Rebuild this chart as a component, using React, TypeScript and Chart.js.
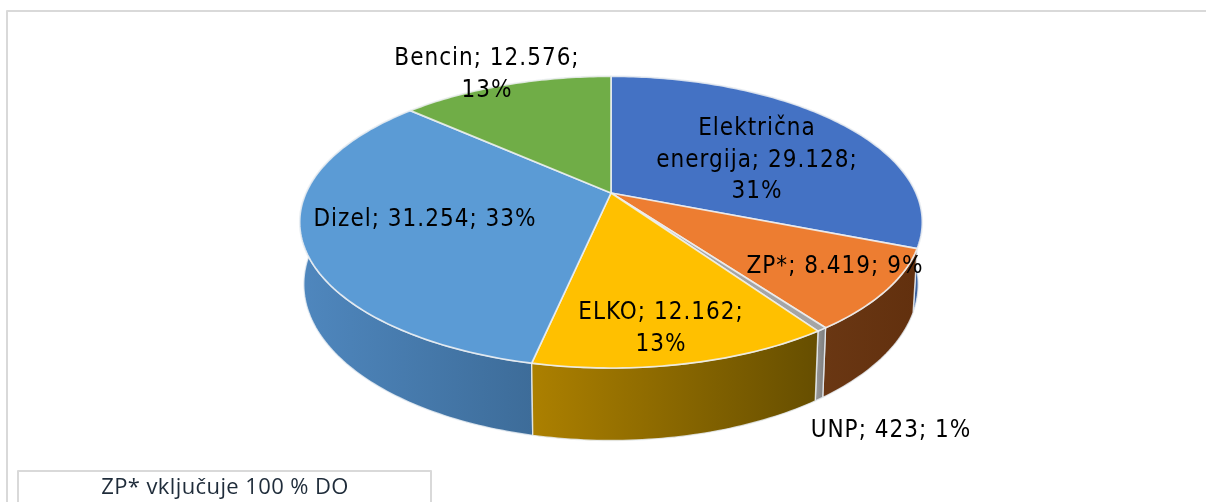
import React, { useEffect, useRef } from "react";
import { Chart, registerables } from "chart.js";

Chart.register(...registerables);

const categories = ["Električna energija", "ZP*", "UNP", "ELKO", "Dizel", "Bencin"];
const values = [29128, 8419, 423, 12162, 31254, 12576];
const valueLabels = ["29.128", "8.419", "423", "12.162", "31.254", "12.576"];
const percents = [31, 9, 1, 13, 33, 13];
const topColors = ["#4472C4", "#ED7D31", "#A5A5A5", "#FFC000", "#5B9BD5", "#70AD47"];
const wallLeft = ["#3C629F", "#6A3713", "#9A9A9A", "#AC8000", "#4F87BE", "#4F7A32"];
const wallRight = ["#3C629F", "#62300E", "#7C7C7C", "#664E00", "#3D6C99", "#4F7A32"];
const footnote = "ZP* vključuje 100 % DO";

// label placement: centre x, first-line centre y, wrapped lines
const labelLayout = [
  { x: 757, y: 129, lines: ["Električna", "energija; 29.128;", "31%"] },
  { x: 835, y: 267, lines: ["ZP*; 8.419; 9%"] },
  { x: 891, y: 431, lines: ["UNP; 423; 1%"] },
  { x: 661, y: 313, lines: ["ELKO; 12.162;", "13%"] },
  { x: 425, y: 220, lines: ["Dizel; 31.254; 33%"] },
  { x: 487, y: 59, lines: ["Bencin; 12.576;", "13%"] },
];

const CX = 611;
const CY = 193;
const TOP = { a: 305, b: 140, dy: 0 };
const BOTTOM = { a: 301, b: 150, dy: 60 };
const K = 0.2;
const STEP = Math.PI / 180;

type Plane = { a: number; b: number; dy: number };

function project(angle: number, p: Plane): [number, number] {
  const u = Math.cos(angle);
  const v = Math.sin(angle);
  const w = 1 - K * v;
  return [CX + (p.a * u) / w, CY + p.dy + (p.b * v) / w];
}

function rim(start: number, end: number, p: Plane): [number, number][] {
  const pts: [number, number][] = [];
  const n = Math.max(2, Math.ceil((end - start) / STEP));
  for (let i = 0; i <= n; i++) pts.push(project(start + ((end - start) * i) / n, p));
  return pts;
}

const pie3d = {
  id: "pie3d",
  beforeDatasetsDraw(chart: any) {
    const ctx: any = chart.ctx;
    const arcs = chart.getDatasetMeta(0).data;
    ctx.save();
    ctx.lineJoin = "round";

    const order = arcs
      .map((_: any, i: number) => i)
      .sort((p: number, q: number) => {
        const m = (i: number) => Math.sin((arcs[i].startAngle + arcs[i].endAngle) / 2);
        return m(p) - m(q);
      });

    for (const i of order) {
      const { startAngle, endAngle } = arcs[i];
      const t = rim(startAngle, endAngle, TOP);
      const b = rim(startAngle, endAngle, BOTTOM).reverse();
      const xs = [...t, ...b].map((q) => q[0]);
      const g = ctx.createLinearGradient(Math.min(...xs), 0, Math.max(...xs), 0);
      g.addColorStop(0, wallLeft[i]);
      g.addColorStop(1, wallRight[i]);
      ctx.beginPath();
      [...t, ...b].forEach((q, n) => (n ? ctx.lineTo(q[0], q[1]) : ctx.moveTo(q[0], q[1])));
      ctx.closePath();
      ctx.fillStyle = g;
      ctx.fill();
      ctx.strokeStyle = "rgba(235,240,245,0.8)";
      ctx.lineWidth = 1.4;
      ctx.stroke();
    }

    arcs.forEach((arc: any, i: number) => {
      const t = rim(arc.startAngle, arc.endAngle, TOP);
      ctx.beginPath();
      ctx.moveTo(CX, CY);
      t.forEach((q) => ctx.lineTo(q[0], q[1]));
      ctx.closePath();
      ctx.fillStyle = topColors[i];
      ctx.fill();
      ctx.strokeStyle = "rgba(238,241,243,0.85)";
      ctx.lineWidth = 1.7;
      ctx.stroke();
    });

    ctx.fillStyle = "#000";
    ctx.font = '24px "DejaVu Sans Condensed", "DejaVu Sans"';
    ctx.letterSpacing = "1px";
    ctx.textAlign = "center";
    ctx.textBaseline = "middle";
    labelLayout.forEach((l) => {
      l.lines.forEach((line, n) => ctx.fillText(line, l.x, l.y + n * 31.5));
    });

    // surrounding frame and footnote box
    ctx.strokeStyle = "#D9D9D9";
    ctx.lineWidth = 2;
    ctx.beginPath();
    ctx.moveTo(7, 504);
    ctx.lineTo(7, 11);
    ctx.lineTo(1208, 11);
    ctx.stroke();
    ctx.beginPath();
    ctx.moveTo(18, 504);
    ctx.lineTo(18, 471);
    ctx.lineTo(431, 471);
    ctx.lineTo(431, 504);
    ctx.stroke();
    ctx.fillStyle = "#1F2C3A";
    ctx.font = '500 22px "Open Sans"';
    ctx.letterSpacing = "0.4px";
    ctx.fillText(footnote, 225, 488);
    ctx.restore();
    return false;
  },
};

export default function App() {
  const ref = useRef<HTMLCanvasElement>(null);
  useEffect(() => {
    document.body.style.margin = "0";
    document.body.style.overflow = "hidden";
    const chart = new Chart(ref.current as HTMLCanvasElement, {
      type: "pie",
      data: {
        labels: categories,
        datasets: [{ data: values, backgroundColor: topColors, borderWidth: 0 }],
      },
      options: {
        animation: false,
        responsive: false,
        rotation: 0,
        plugins: {
          legend: { display: false },
          tooltip: { enabled: false },
          datalabels: { valueLabels, percents },
        } as any,
      },
      plugins: [pie3d as any],
    });
    return () => chart.destroy();
  }, []);
  return (
    <canvas
      ref={ref}
      width={1206}
      height={502}
      style={{ display: "block", width: 1206, height: 502, background: "#fff" }}
    />
  );
}
